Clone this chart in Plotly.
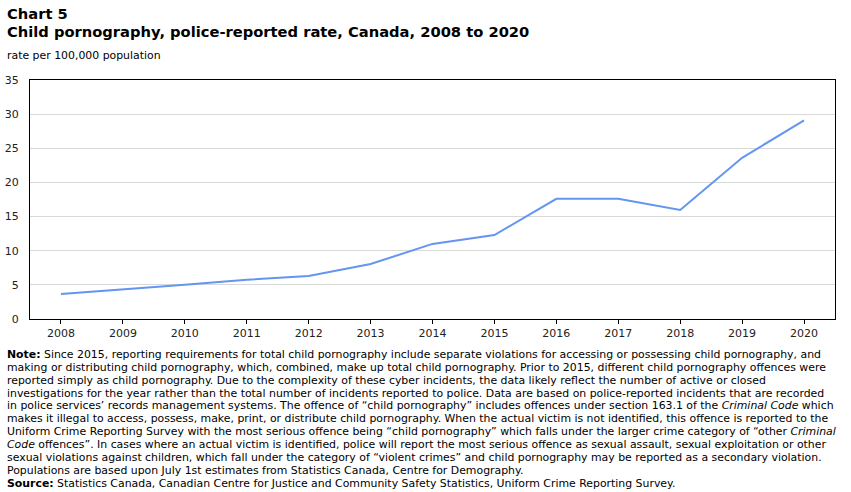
import plotly.graph_objects as go

years = ["2008", "2009", "2010", "2011", "2012", "2013", "2014",
         "2015", "2016", "2017", "2018", "2019", "2020"]
rates = [3.66, 4.3, 5.0, 5.75, 6.3, 8.05, 11.0, 12.3, 17.6, 17.6, 15.96, 23.6, 29.1]
y_ticks = [0, 5, 10, 15, 20, 25, 30, 35]

chart_label = "Chart 5"
title = "Child pornography, police-reported rate, Canada, 2008 to 2020"
subtitle = "rate per 100,000 population"
note_lines = [
    "<b>Note:</b> Since 2015, reporting requirements for total child pornography include separate violations for accessing or possessing child pornography, and",
    "making or distributing child pornography, which, combined, make up total child pornography. Prior to 2015, different child pornography offences were",
    "reported simply as child pornography. Due to the complexity of these cyber incidents, the data likely reflect the number of active or closed",
    "investigations for the year rather than the total number of incidents reported to police. Data are based on police-reported incidents that are recorded",
    "in police services’ records management systems. The offence of “child pornography” includes offences under section 163.1 of the <i>Criminal Code</i> which",
    "makes it illegal to access, possess, make, print, or distribute child pornography. When the actual victim is not identified, this offence is reported to the",
    "Uniform Crime Reporting Survey with the most serious offence being “child pornography” which falls under the larger crime category of “other <i>Criminal</i>",
    "<i>Code</i> offences”. In cases where an actual victim is identified, police will report the most serious offence as sexual assault, sexual exploitation or other",
    "sexual violations against children, which fall under the category of “violent crimes” and child pornography may be reported as a secondary violation.",
    "Populations are based upon July 1st estimates from Statistics Canada, Centre for Demography.",
    "<b>Source:</b> Statistics Canada, Canadian Centre for Justice and Community Safety Statistics, Uniform Crime Reporting Survey.",
]

W, H = 851, 492
PL, PR, PT, PB = 30, 835, 80, 319
FONT = "DejaVu Sans"


def py(pix):
    return (PB - pix) / (PB - PT)


def px(pix):
    return (pix - PL) / (PR - PL)


fig = go.Figure()
fig.add_trace(go.Scatter(
    x=years, y=rates, mode="lines",
    line=dict(color="#6495F0", width=2),
    hoverinfo="x+y",
))

fig.update_layout(
    width=W, height=H,
    margin=dict(l=PL, r=W - PR, t=PT, b=H - PB, pad=0, autoexpand=False),
    paper_bgcolor="white", plot_bgcolor="white",
    showlegend=False,
    font=dict(family=FONT, size=11, color="#222222"),
    xaxis=dict(
        type="category", range=[-0.5, len(years) - 0.5],
        showgrid=False, showline=True, linecolor="black", linewidth=1,
        mirror=True, ticks="outside", ticklen=4, tickcolor="black",
        tickfont=dict(size=11, color="#222222", family=FONT),
        fixedrange=True, automargin=False,
    ),
    yaxis=dict(
        range=[0, 35], tickvals=y_ticks,
        showgrid=True, gridcolor="#d9d9d9", gridwidth=1,
        showline=True, linecolor="black", linewidth=1, mirror=True,
        ticks="", ticklabelstandoff=8,
        tickfont=dict(size=11, color="#222222", family=FONT),
        zeroline=False, fixedrange=True, automargin=False,
    ),
)

anns = [
    dict(text="<b>" + chart_label + "</b>", x=px(6), y=py(13), size=14.7),
    dict(text="<b>" + title + "</b>", x=px(6), y=py(32), size=14.7),
    dict(text=subtitle, x=px(6), y=py(55), size=10.9),
]
for a in anns:
    fig.add_annotation(
        text=a["text"], xref="paper", yref="paper", x=a["x"], y=a["y"],
        xanchor="left", yanchor="middle", showarrow=False, borderpad=0,
        font=dict(size=a["size"], color="black", family=FONT),
    )

for i, line in enumerate(note_lines):
    y_pix = 354.5 + i * 12.85
    fig.add_annotation(
        text=line, xref="paper", yref="paper", x=px(6), y=py(y_pix),
        xanchor="left", yanchor="middle", showarrow=False, borderpad=0,
        font=dict(size=10.9, color="black", family=FONT),
    )

fig.write_html("out.html")
